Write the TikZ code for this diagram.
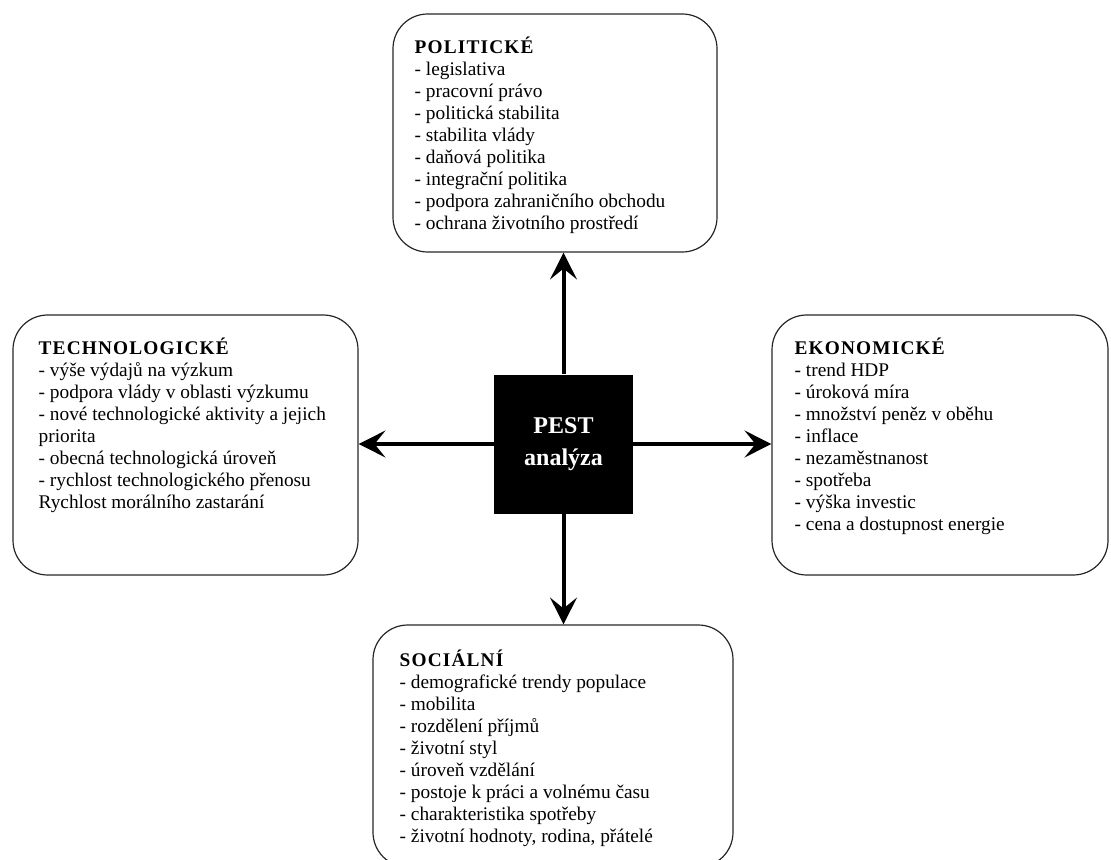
\documentclass[tikz,border=0pt]{standalone}
\usepackage{fontspec}
\setmainfont{Liberation Serif}
\usetikzlibrary{arrows.meta,positioning}
\newcommand{\boxtitle}[1]{{\addfontfeatures{LetterSpace=6}\bfseries #1}}

\begin{document}
\begin{tikzpicture}[x=0.75pt, y=-0.75pt, every node/.style={font=\fontsize{14.5}{16.5}\selectfont}, box/.style={draw=black!85, line width=0.9pt, rounded corners=26pt, inner sep=0pt}, txt/.style={anchor=north west, align=left, inner sep=0pt}, pestbox/.style={fill=black, text=white, align=center, minimum size=104.25pt, inner sep=0pt, font=\fontsize{18}{24}\selectfont\bfseries}, arr/.style={line width=3pt, -{Stealth[length=20pt, width=20pt, inset=8pt]}}]
\useasboundingbox (0,0) rectangle (1111,860);
\node[pestbox] (pest) at (563.5,444) {PEST\\analýza};
\node[box, minimum width=243pt, minimum height=178.5pt] (pol) at (555,133) {};
\node[box, minimum width=258.75pt, minimum height=195pt] (tech) at (185.5,445) {};
\node[box, minimum width=252pt, minimum height=195pt] (eko) at (940,445) {};
\node[box, minimum width=270pt, minimum height=181.5pt] (soc) at (553,746) {};
\node[txt] (pol-txt) at ([shift={(22,23)}]pol.north west) {\boxtitle{POLITICKÉ}\\- legislativa\\- pracovní právo\\- politická stabilita\\- stabilita vlády\\- daňová politika\\- integrační politika\\- podpora zahraničního obchodu\\- ochrana životního prostředí};
\node[txt] (tech-txt) at ([shift={(26,23)}]tech.north west) {\boxtitle{TECHNOLOGICKÉ}\\- výše výdajů na výzkum\\- podpora vlády v oblasti výzkumu\\- nové technologické aktivity a jejich\\priorita\\- obecná technologická úroveň\\- rychlost technologického přenosu\\Rychlost morálního zastarání};
\node[txt] (eko-txt) at ([shift={(23,23)}]eko.north west) {\boxtitle{EKONOMICKÉ}\\- trend HDP\\- úroková míra\\- množství peněz v oběhu\\- inflace\\- nezaměstnanost\\- spotřeba\\- výška investic\\- cena a dostupnost energie};
\node[txt] (soc-txt) at ([shift={(27,25)}]soc.north west) {\boxtitle{SOCIÁLNÍ}\\- demografické trendy populace\\- mobilita\\- rozdělení příjmů\\- životní styl\\- úroveň vzdělání\\- postoje k práci a volnému času\\- charakteristika spotřeby\\- životní hodnoty, rodina, přátelé};
\draw[arr] (pest.north) -- (pest.north |- pol.south);
\draw[arr] (pest.west) -- (pest.west -| tech.east);
\draw[arr] (pest.east) -- (pest.east -| eko.west);
\draw[arr] (pest.south) -- (pest.south |- soc.north);
\end{tikzpicture}
\end{document}
